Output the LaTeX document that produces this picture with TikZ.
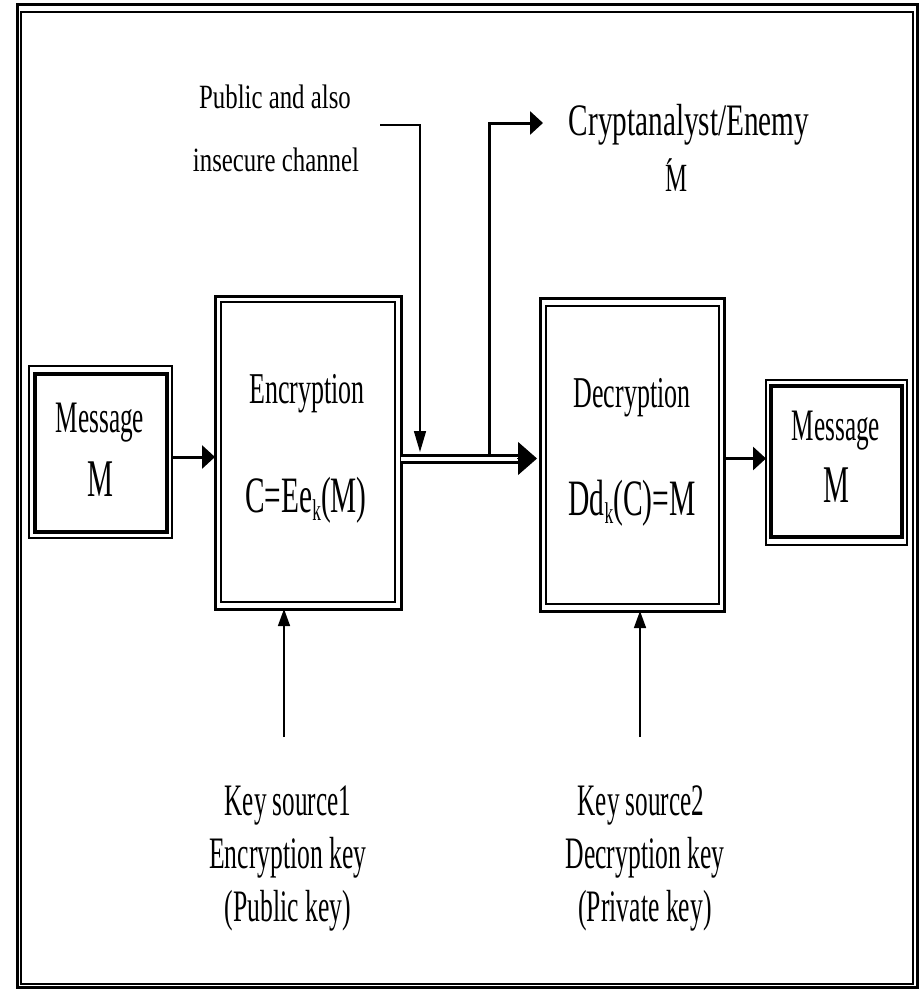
\documentclass[tikz,border=0pt]{standalone}
\usepackage{fontspec}
\setmainfont{Liberation Serif}
\usepackage{graphicx}
\usetikzlibrary{arrows.meta}
\newcommand\txt[3]{\fontsize{#1}{#1}\selectfont\scalebox{#2}[1]{#3}}
\newcommand\lowk{\raisebox{-8pt}{\fontsize{30}{30}\selectfont k}}
\begin{document}
\begin{tikzpicture}[x=1pt,y=-1pt,
  lbl/.style={inner sep=0pt, outer sep=0pt, anchor=base},
  msgbox/.style={draw, line width=2pt, inner sep=0pt, outer sep=0pt},
  procbox/.style={draw, line width=3pt, inner sep=0pt, outer sep=0pt},
  thinarr/.style={line width=1.5pt, -{Triangle[length=21pt,width=12pt]}},
  keyarr/.style={line width=1.5pt, -{Triangle[length=17pt,width=12pt]}},
  boldarr/.style={line width=3pt, -{Triangle[length=13pt,width=23pt]}}]
\useasboundingbox (0,0) rectangle (920,990);
% outer frame
\draw[line width=3pt] (17.5,4.5) rectangle (917.5,987.5);
\draw[line width=2pt] (21,12) rectangle (913,984);

% boxes
\node[msgbox, minimum width=143pt, minimum height=172pt] (msg1) at (100.5,452) {};
\draw[line width=3.5pt] ([shift={(6,8)}]msg1.north west) rectangle ([shift={(-5,-6)}]msg1.south east);
\node[procbox, minimum width=186pt, minimum height=313pt] (enc) at (308,452.5) {};
\draw[line width=1.5pt] ([shift={(6,6)}]enc.north west) rectangle ([shift={(-6,-7)}]enc.south east);
\node[procbox, minimum width=184pt, minimum height=313pt] (dec) at (632,454.5) {};
\draw[line width=1.5pt] ([shift={(6,8)}]dec.north west) rectangle ([shift={(-5,-7)}]dec.south east);
\node[msgbox, minimum width=141pt, minimum height=165pt] (msg2) at (836.5,462.5) {};
\draw[line width=3.5pt] ([shift={(5,6)}]msg2.north west) rectangle ([shift={(-5,-8)}]msg2.south east);

% texts in boxes
\node[lbl] (msg1a) at (100,432) {\txt{45}{0.56}{Message}};
\node[lbl] (msg1b) at (100,496) {\txt{53}{0.55}{M}};
\node[lbl] (msg2a) at (836,440) {\txt{45}{0.56}{Message}};
\node[lbl] (msg2b) at (836,502) {\txt{53}{0.55}{M}};
\node[lbl] (enca) at (307,403) {\txt{44}{0.59}{Encryption}};
\node[lbl] (encb) at (306,512) {\txt{51}{0.575}{C=Ee\lowk(M)}};
\node[lbl] (deca) at (632,407) {\txt{44}{0.59}{Decryption}};
\node[lbl] (decb) at (632,515) {\txt{51}{0.58}{Dd\lowk(C)=M}};

% outside texts
\node[lbl] (pub1) at (275,108) {\txt{34}{0.73}{Public and also}};
\node[lbl] (pub2) at (276,171) {\txt{34}{0.73}{insecure channel}};
\node[lbl] (crypt1) at (689,135) {\txt{45}{0.65}{Cryptanalyst/Enemy}};
\node[lbl] (crypt2) at (677,191) {\txt{40}{0.62}{\rlap{\raisebox{5pt}{\char"00B4}}M}};
\node[lbl] (ks1a) at (288,815) {\txt{45}{0.56}{Key source1}};
\node[lbl] (ks1b) at (288,868) {\txt{45}{0.57}{Encryption key}};
\node[lbl] (ks1c) at (288,921) {\txt{45}{0.57}{(Public key)}};
\node[lbl] (ks2a) at (641,815) {\txt{45}{0.56}{Key source2}};
\node[lbl] (ks2b) at (645,868) {\txt{45}{0.57}{Decryption key}};
\node[lbl] (ks2c) at (645,921) {\txt{45}{0.57}{(Private key)}};

% coordinates
\coordinate (ya) at (0,457);
\coordinate (yc) at (0,458.5);
\coordinate (chtip) at (537,458.5);
\coordinate (chbase) at (518,458.5);
\coordinate (pubstart) at (380,125);
\coordinate (pubdrop) at (420,452);
\coordinate (tap) at (489,455);
\coordinate (cryptend) at (543,123);
\coordinate (k1) at (284,737);
\coordinate (k2) at (640,737);

% connectors
\draw[boldarr] (msg1.east |- ya) -- (enc.west |- ya);
\draw[line width=3pt, double, double distance=4pt] (enc.east |- yc) -- ([xshift=2pt]chbase);
\draw[line width=1pt, -{Triangle[length=19pt,width=33pt]}] ([xshift=-1pt]chbase) -- (chtip);
\draw[thinarr] (pubstart) -| (pubdrop);
\draw[boldarr] (tap) |- (cryptend);
\draw[boldarr] (dec.east |- yc) -- (msg2.west |- yc);
\draw[keyarr] (k1) -- (k1 |- enc.south);
\draw[keyarr] (k2) -- (k2 |- dec.south);
\end{tikzpicture}
\end{document}
